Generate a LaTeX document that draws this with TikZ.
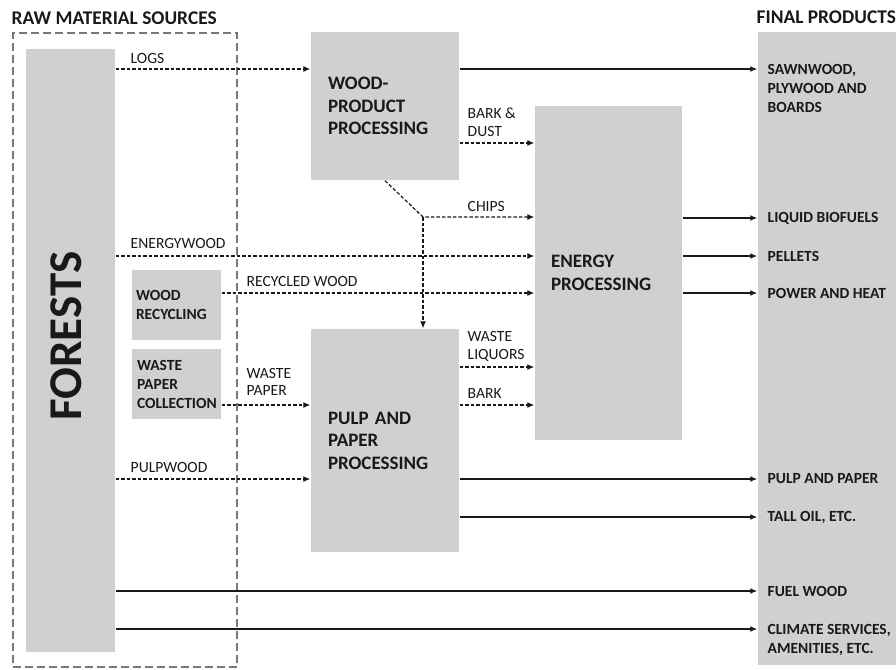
\documentclass[tikz,border=0pt]{standalone}
\usepackage{fontspec}
\setmainfont{Carlito}
\usetikzlibrary{positioning,arrows.meta}
\definecolor{boxgray}{RGB}{208,208,208}
\definecolor{framegray}{RGB}{120,120,120}
\definecolor{ink}{RGB}{25,25,25}
\newcommand{\fLbl}{\fontsize{15.6}{17.5}\selectfont}
\newcommand{\fProc}{\fontsize{19}{22.5}\selectfont\bfseries}
\newcommand{\fSrc}{\fontsize{15.5}{19}\selectfont\bfseries}
\newcommand{\fProd}{\fontsize{15.5}{19}\selectfont\bfseries}
\newcommand{\fHead}{\fontsize{19.4}{22}\selectfont\bfseries}
\tikzset{
  every picture/.style={line width=1.4pt},
  box/.style={fill=boxgray,draw=none,rectangle,inner sep=0pt},
  proc/.style={box,font=\fProc,text=ink,align=left,inner xsep=17pt,text width=114pt},
  src/.style={box,font=\fSrc,text=ink,align=left,inner xsep=4pt,text width=81pt,minimum width=89pt,minimum height=70pt},
  lbl/.style={font=\fLbl,text=ink,align=left,inner sep=0pt,anchor=west},
  prod/.style={font=\fProd,text=ink,align=left,inner sep=0pt,anchor=west},
  head/.style={font=\fHead,text=ink,inner sep=0pt,anchor=west},
  feed/.style={draw=ink,-{Latex[length=7pt,width=6pt]},line width=1.2pt,dash pattern=on 3.5pt off 2pt},
  flow/.style={draw=ink,-{Latex[length=7pt,width=6pt]},line width=1.6pt},
}
\begin{document}
\begin{tikzpicture}[x=1pt,y=-1pt]
\useasboundingbox (0,0) rectangle (896,669);
% --- headings ---
\node[head] (HS) at (11,18) {RAW MATERIAL SOURCES};
\node[head] (HP) at (756,17) {FINAL PRODUCTS};
% --- raw material sources ---
\node[draw=framegray,dash pattern=on 8pt off 4pt,line width=1.4pt,minimum width=224pt,minimum height=634pt,inner sep=0pt] (SRC) at (125,350) {};
\node[box,minimum width=89pt,minimum height=603pt,text=ink] (FOR) at (70.5,350.5)
  {\rotatebox{90}{\fontsize{47}{47}\selectfont\bfseries\hspace*{29pt}FORESTS\rule[-8pt]{0pt}{0pt}}};
\node[src] (WR) at (176.5,305) {WOOD\\RECYCLING};
\node[src,inner xsep=5pt,text width=79pt] (WPC) at (176.5,384) {WASTE\\PAPER\\COLLECTION};
% --- processing ---
\node[proc,minimum height=148pt] (WP) at (385,106) {WOOD-\\PRODUCT\\PROCESSING};
\node[proc,minimum height=223pt] (PP) at (385,440.5) {PULP AND\\PAPER\\PROCESSING};
\node[proc,inner xsep=16pt,text width=115pt,minimum height=334pt] (EP) at (608.5,273) {ENERGY\\PROCESSING};
% --- final products ---
\node[box,minimum width=138pt,minimum height=633pt] (FP) at (827,348.5) {};
\node[prod] (SAW) at (767,88) {SAWNWOOD,\\PLYWOOD AND\\BOARDS};
\node[prod] (LIQ) at (767,218) {LIQUID BIOFUELS};
\node[prod] (PEL) at (767,256) {PELLETS};
\node[prod] (POW) at (767,293) {POWER AND HEAT};
\node[prod] (PAP) at (767,479) {PULP AND PAPER};
\node[prod] (TAL) at (767,517) {TALL OIL, ETC.};
\node[prod] (FUE) at (767,591) {FUEL WOOD};
\node[prod] (CLI) at (767,639.5) {CLIMATE SERVICES,\\AMENITIES, ETC.};
% --- raw material flows ---
\draw[feed] (FOR.east |- 0,69) -- (WP.west |- 0,69);
\node[lbl] (LLOG) at (130,58) {LOGS};
\draw[feed] (FOR.east |- 0,256) -- (EP.west |- 0,256);
\node[lbl] (LEW) at (130,243) {ENERGYWOOD};
\draw[feed] (WR.east |- 0,293) -- (EP.west |- 0,293);
\node[lbl] (LRW) at (246,281) {RECYCLED WOOD};
\draw[feed] (WPC.east |- 0,405) -- (PP.west |- 0,405);
\node[lbl] (LWPA) at (246,382) {WASTE\\PAPER};
\draw[feed] (FOR.east |- 0,479) -- (PP.west |- 0,479);
\node[lbl] (LPW) at (130,467) {PULPWOOD};
% --- by-products to energy ---
\draw[feed] (WP.east |- 0,143) -- (EP.west |- 0,143);
\node[lbl] (LBD) at (467,122) {BARK \&\\DUST};
\coordinate (J) at (423,217);
\draw[feed] (WP.south) -- (J) -- (EP.west |- J);
\draw[feed] (J) -- (PP.north -| J);
\node[lbl] (LCH) at (467,206) {CHIPS};
\draw[feed] (PP.east |- 0,367) -- (EP.west |- 0,367);
\node[lbl] (LWL) at (467,346.5) {WASTE\\LIQUORS};
\draw[feed] (PP.east |- 0,405) -- (EP.west |- 0,405);
\node[lbl] (LBK) at (467,393) {BARK};
% --- products ---
\draw[flow] (WP.east |- 0,69) -- (FP.west |- 0,69);
\foreach \n in {LIQ,PEL,POW}{
  \draw[flow] (EP.east |- \n.west) -- (FP.west |- \n.west);
}
\foreach \n in {PAP,TAL}{
  \draw[flow] (PP.east |- \n.west) -- (FP.west |- \n.west);
}
\draw[flow] (FOR.east |- FUE.west) -- (FP.west |- FUE.west);
\draw[flow] (FOR.east |- 0,629) -- (FP.west |- 0,629);
\end{tikzpicture}
\end{document}
